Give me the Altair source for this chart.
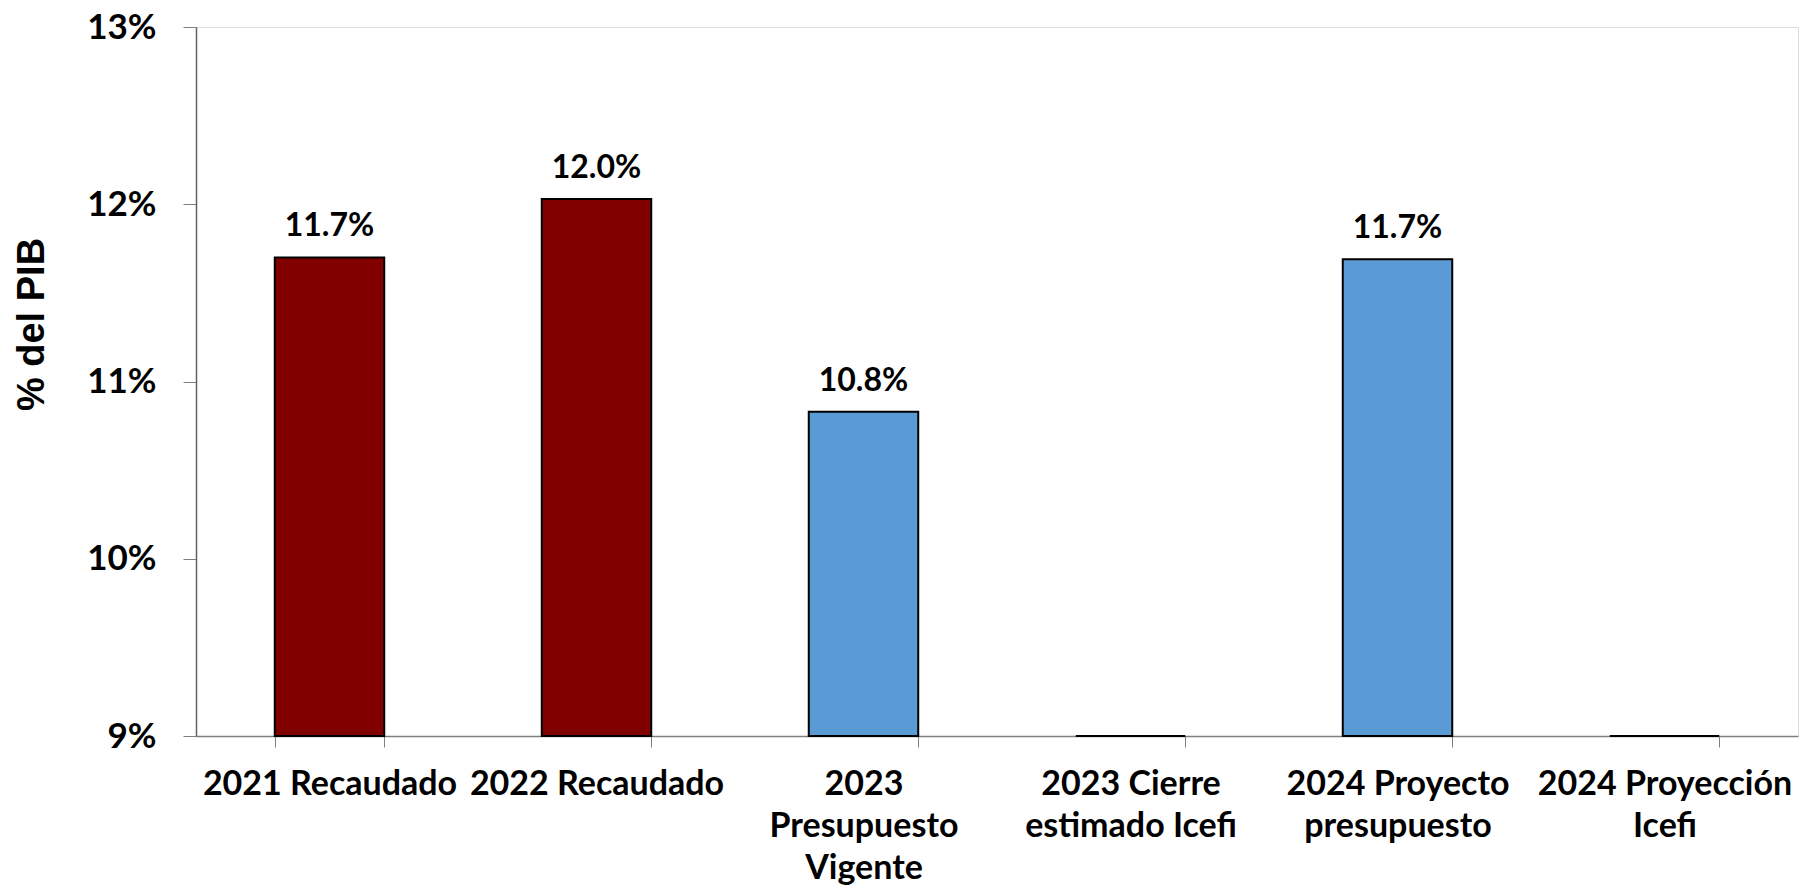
import altair as alt
import pandas as pd

categorias = [
    "2021 Recaudado",
    "2022 Recaudado",
    "2023|Presupuesto|Vigente",
    "2023 Cierre|estimado Icefi",
    "2024 Proyecto|presupuesto",
    "2024 Proyección|Icefi",
]
valores = [11.70, 12.03, 10.83, 9.0, 11.69, 9.0]
etiquetas = ["11.7%", "12.0%", "10.8%", "", "11.7%", ""]
tipo = ["Recaudado", "Recaudado", "Presupuesto", "Recaudado", "Presupuesto", "Recaudado"]
base_eje = 9

df = pd.DataFrame({"cat": categorias, "valor": valores, "etiqueta": etiquetas, "tipo": tipo})

FONT = "Lato"

x = alt.X(
    "cat:N",
    sort=categorias,
    scale=alt.Scale(paddingInner=0.59, paddingOuter=0.295),
    axis=alt.Axis(
        title=None,
        labelAngle=0,
        labelExpr="split(datum.label, '|')",
        labelFont=FONT,
        labelFontWeight="bold",
        labelFontSize=34,
        labelColor="black",
        labelLineHeight=42,
        labelPadding=20,
        labelBaseline="top",
        labelLimit=400,
        tickSize=11,
        tickColor="#808080",
        tickBand="extent",
        domainColor="#808080",
        domainWidth=1.5,
        grid=False,
    ),
)

y = alt.Y(
    "valor:Q",
    scale=alt.Scale(domain=[9, 13], zero=False, nice=False),
    axis=alt.Axis(
        title="% del PIB",
        titleFont="Liberation Sans",
        titleFontWeight="bold",
        titleFontSize=38,
        titleColor="black",
        titleAngle=-90,
        titleAlign="center",
        titleBaseline="alphabetic",
        titleX=-153,
        titleY=297,
        values=[9, 10, 11, 12, 13],
        labelExpr="datum.value + '%'",
        labelFont=FONT,
        labelFontWeight="bold",
        labelFontSize=35,
        labelColor="black",
        labelPadding=27,
        tickSize=13,
        tickColor="#808080",
        domainColor="#606060",
        domainWidth=1.5,
        grid=False,
    ),
)

color = alt.Color(
    "tipo:N",
    scale=alt.Scale(domain=["Recaudado", "Presupuesto"], range=["#800000", "#5B9BD5"]),
    legend=None,
)

base = alt.Chart(df)

bars = base.mark_bar(stroke="black", strokeWidth=2).encode(
    x=x, y=y, y2=alt.Y2(datum=base_eje), color=color
)

labels = base.mark_text(
    font=FONT, fontWeight="bold", fontSize=32, color="black", baseline="alphabetic", dy=-21
).encode(x=alt.X("cat:N", sort=categorias), y="valor:Q", text="etiqueta:N")

chart = (
    alt.layer(bars, labels)
    .properties(
        width=1602,
        height=709,
        autosize=alt.AutoSizeParams(type="none"),
        padding={"left": 188, "top": 19, "right": 1, "bottom": 150},
    )
    .configure_view(stroke=None)
    .configure(background="white")
)

chart.save("out.html", embed_options={"renderer": "svg", "actions": False})
